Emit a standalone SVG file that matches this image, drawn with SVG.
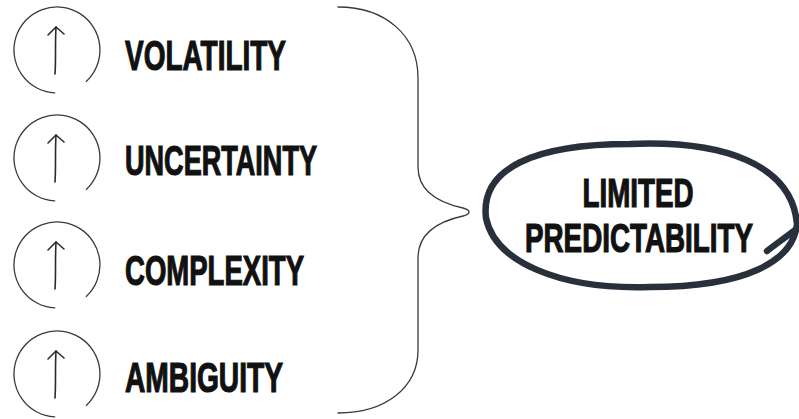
<svg xmlns="http://www.w3.org/2000/svg" width="799" height="419" viewBox="0 0 799 419">
  <style>
    .ring { fill: none; stroke: #3a3a3a; stroke-width: 1.3; stroke-linecap: round; }
    .arrow { fill: none; stroke: #2a2a2a; stroke-width: 1.6; stroke-linecap: round; stroke-linejoin: round; }
    .label { font-family: "Liberation Sans", Arial, sans-serif; font-weight: bold; font-size: 42px; fill: #111; stroke: #111; stroke-width: 1.2; }
    .result { font-family: "Liberation Sans", Arial, sans-serif; font-weight: bold; font-size: 40px; fill: #111; stroke: #111; stroke-width: 1.2; text-anchor: middle; }
    .brace { fill: none; stroke: #3a3a3a; stroke-width: 1.3; stroke-linecap: round; stroke-linejoin: round; }
    .loop { fill: none; stroke: #28313b; stroke-width: 6.5; stroke-linecap: round; stroke-linejoin: round; }
  </style>
  <defs>
    <!-- open hand-drawn circle with an upward arrow, centred on 0,0 -->
    <g id="up-badge">
      <path class="ring" d="M -2.3,42.9 A 43 43 0 1 1 29.3,31.4"/>
      <path class="arrow" d="M -2,24 C -1,10 -2,-6 -1,-23"/>
      <path class="arrow" d="M -9,-15 L -1,-23 L 7,-16"/>
    </g>
  </defs>
  <rect width="799" height="419" fill="#ffffff"/>

  <g id="volatility">
    <use href="#up-badge" x="57" y="50"/>
    <text class="label" x="125" y="70" textLength="161" lengthAdjust="spacingAndGlyphs">VOLATILITY</text>
  </g>
  <g id="uncertainty">
    <use href="#up-badge" x="57" y="158"/>
    <text class="label" x="125" y="175" textLength="192" lengthAdjust="spacingAndGlyphs">UNCERTAINTY</text>
  </g>
  <g id="complexity">
    <use href="#up-badge" x="57" y="265"/>
    <text class="label" x="125" y="285" textLength="179" lengthAdjust="spacingAndGlyphs">COMPLEXITY</text>
  </g>
  <g id="ambiguity">
    <use href="#up-badge" x="57" y="374"/>
    <text class="label" x="125" y="392" textLength="158" lengthAdjust="spacingAndGlyphs">AMBIGUITY</text>
  </g>

  <g id="connectors">
    <!-- curly brace gathering the four factors -->
    <path class="brace" d="M 338,7 C 385,7 418,35 418,78 L 418,167 C 418,192 440,203 463,208 C 471,210 471,214 463,216 C 440,221 418,232 418,258 L 418,350 C 418,388 385,413 338,413"/>
  </g>

  <g id="limited-predictability">
    <path class="loop" d="M 797,224 C 793,262 745,287 650,287 C 560,290 495,262 486,218 C 480,168 535,144 630,144 C 725,140 792,165 797,224 Z"/>
    <path class="loop" d="M 767,251 C 776,244 786,237 795,230"/>
    <text class="result" x="638" y="207" textLength="111" lengthAdjust="spacingAndGlyphs">LIMITED</text>
    <text class="result" x="639" y="252" textLength="228" lengthAdjust="spacingAndGlyphs">PREDICTABILITY</text>
  </g>
</svg>
